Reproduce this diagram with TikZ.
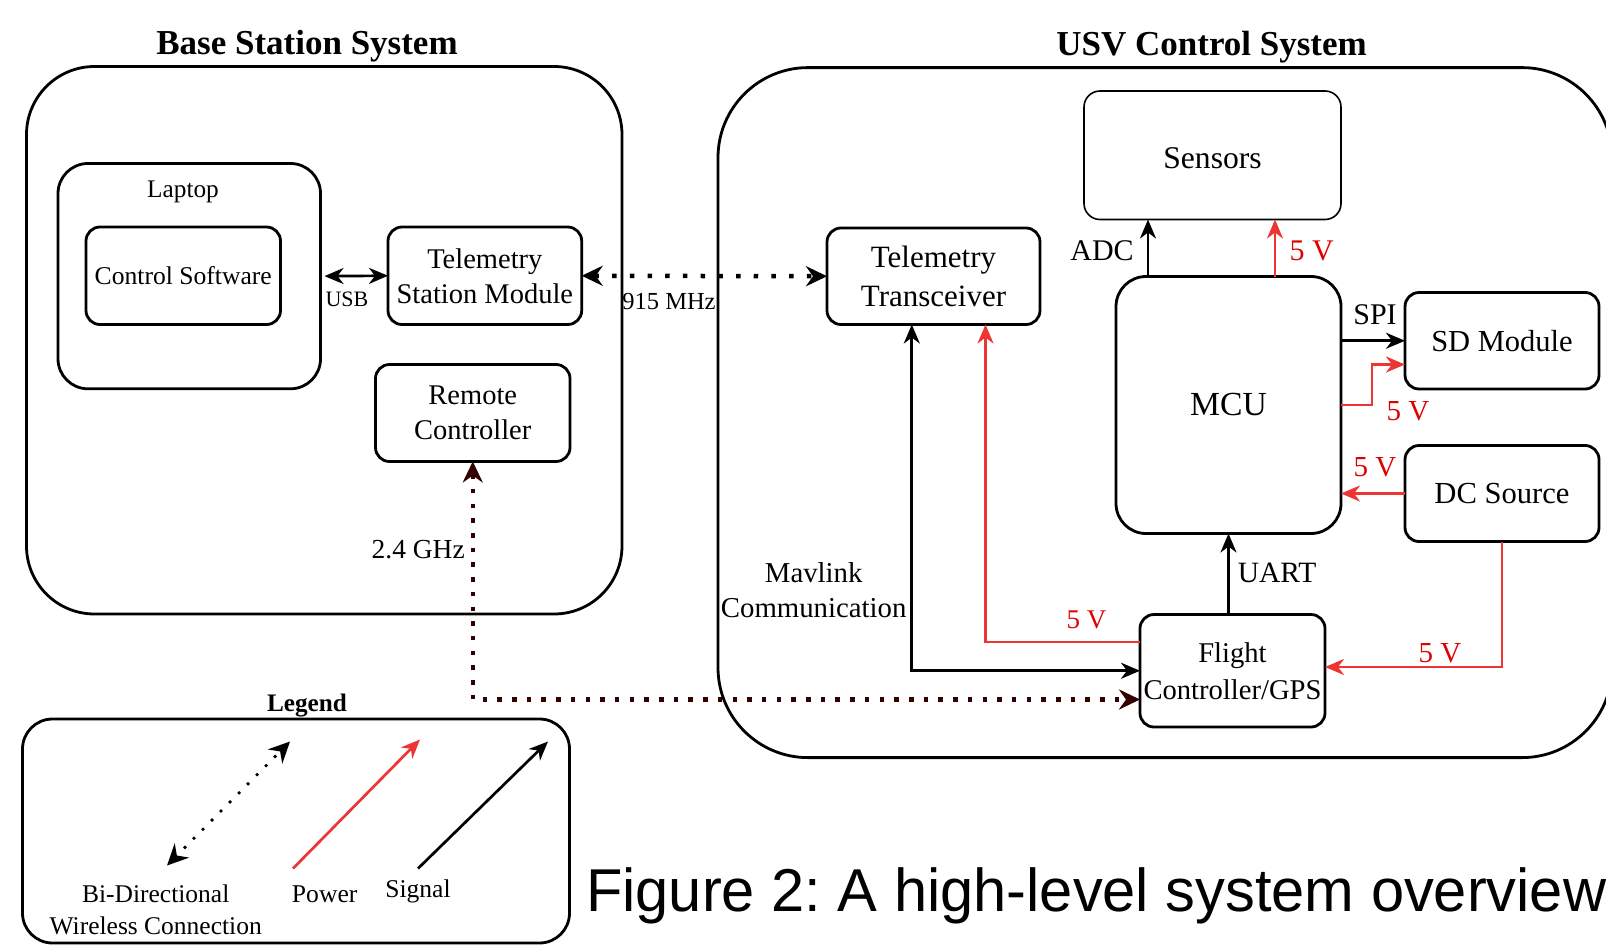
\documentclass[tikz,border=0pt]{standalone}
\usepackage{fontspec}
\setmainfont{Liberation Serif}
\newfontfamily\capfont[FakeStretch=0.985]{Liberation Sans}
\usetikzlibrary{arrows.meta,calc}
\newcommand\fsz[2]{\fontsize{#1}{#2}\selectfont}
\definecolor{pw}{HTML}{EE3535}
\definecolor{pwt}{HTML}{E00000}
\definecolor{wlc}{HTML}{330000}
\begin{document}
\begin{tikzpicture}[x=1pt,y=-1pt,
  blk/.style={draw, line width=2.8pt, rounded corners=14pt, inner sep=0pt, outer sep=0pt, align=center},
  tipA/.style={-{Stealth[length=19pt,width=16pt,inset=6pt]}},
  tipB/.style={{Stealth[length=19pt,width=16pt,inset=6pt]}-{Stealth[length=19pt,width=16pt,inset=6pt]}},
  tipW/.style={{Stealth[length=21pt,width=20pt,inset=7pt]}-{Stealth[length=21pt,width=20pt,inset=7pt]}},
  sig/.style={line width=2.7pt, tipA},
  sigb/.style={line width=2.7pt, tipB},
  pow/.style={line width=2.7pt, draw=pw, tipA},
  wless/.style={line width=4.5pt, dash pattern=on 4.5pt off 13.2pt, tipW},
  wlbrown/.style={line width=4.5pt, draw=wlc, dash pattern=on 4.5pt off 10.2pt, tipW},
  lbl/.style={inner sep=0pt, align=center},
  vlt/.style={lbl, text=pwt, font=\fsz{29}{34}},
]
\useasboundingbox (0,0) rectangle (1606,945);
\clip (0,0) rectangle (1606,945);

% ---------- Base Station ----------
\node[lbl, font=\bfseries\fsz{35}{40}] (t1) at (307,46.5) {Base Station System};
\node[blk, rounded corners=68pt, minimum width=595.5pt, minimum height=547.5pt] (base) at (324.25,340.25) {};
\node[blk, rounded corners=30pt, minimum width=262.5pt, minimum height=225.3pt] (laptop) at (189.25,276.15) {};
\node[lbl, font=\fsz{25.3}{30}] (laptoplbl) at (183,191.5) {Laptop};
\node[blk, minimum width=194.5pt, minimum height=97.5pt, font=\fsz{25.6}{30}] (cs) at (183.25,275.75) {Control Software};
\node[blk, minimum width=193.7pt, minimum height=97.5pt, font=\fsz{28.5}{35}] (tsm) at (484.85,275.75) {Telemetry\\Station Module};
\node[blk, minimum width=194.5pt, minimum height=97pt, font=\fsz{28.5}{35}] (rc) at (472.75,413) {Remote\\Controller};

% ---------- USV ----------
\node[lbl, font=\bfseries\fsz{35}{40}] (t2) at (1211.6,47) {USV Control System};
\node[blk, rounded corners=90pt, minimum width=894pt, minimum height=690pt] (usv) at (1165,412.6) {};
\node[blk, line width=1.6pt, rounded corners=16pt, minimum width=257pt, minimum height=128.5pt, font=\fsz{31.6}{36}] (sens) at (1212.5,155.25) {};
\node[lbl, font=\fsz{31.6}{36}] (senslbl) at (1212.5,158.5) {Sensors};
\node[blk, minimum width=213pt, minimum height=96.5pt, font=\fsz{31}{38.8}] (tt) at (933.5,276.25) {Telemetry\\Transceiver};
\node[blk, rounded corners=30pt, minimum width=225pt, minimum height=257pt, font=\fsz{33.7}{38}] (mcu) at (1228.5,405) {MCU};
\node[blk, minimum width=194pt, minimum height=96.5pt, font=\fsz{30.5}{36}] (sd) at (1502,340.75) {SD Module};
\node[blk, minimum width=194pt, minimum height=96pt, font=\fsz{30.6}{36}] (dc) at (1502,493.5) {DC Source};
\node[blk, minimum width=185pt, minimum height=112.5pt, font=\fsz{28.6}{37}] (fc) at (1232.5,670.75) {Flight\\Controller/GPS};

% ---------- connectors ----------
\draw[sigb, shorten <=4pt] (laptop.east) -- (tsm.west);
\node[lbl, font=\fsz{22}{26}] (usb) at (347,299) {USB};
\draw[wless] (tsm.east) -- (tt.west);
\node[lbl, font=\fsz{24.5}{28}] (mhz) at (669,302) {915 MHz};

\draw[sig] ([xshift=-80.5pt]mcu.north) -- ([xshift=-80.5pt]mcu.north |- sens.south);
\node[lbl, font=\fsz{30}{34}] (adc) at (1102,251) {ADC};
\draw[pow] ([xshift=46.5pt]mcu.north) -- ([xshift=46.5pt]mcu.north |- sens.south);
\node[vlt, font=\fsz{30}{34}] (v1) at (1311.7,251) {5 V};

\draw[sig] (mcu.east |- sd.west) -- (sd.west);
\node[lbl, font=\fsz{30}{34}] (spi) at (1375,315) {SPI};
\draw[pow] (mcu.east) -- ++(31,0) |- ([yshift=-23.75pt]sd.west);
\node[vlt] (v2) at (1408,411) {5 V};

\draw[pow] (dc.west) -- (dc.west -| mcu.east);
\node[vlt] (v3) at (1375,467) {5 V};

\draw[sig] (mcu.south |- fc.north) -- (mcu.south);
\node[lbl, font=\fsz{29.5}{34}] (uart) at (1277,572.5) {UART};

\draw[pow] (dc.south) |- ([yshift=3.75pt]fc.east);
\node[vlt] (v4) at (1440,653.7) {5 V};

\draw[pow] ([yshift=28.75pt]fc.west) -| ([xshift=52pt]tt.south);
\node[vlt, font=\fsz{27}{32}] (v5) at (1086.6,620) {5 V};

\draw[sigb] ([xshift=-21.7pt]tt.south) |- (fc.west);
\node[lbl, font=\fsz{28.8}{34.5}] (mav) at (813.7,590) {Mavlink\\Communication};

\draw[wlbrown] (rc.south) |- ([yshift=-28.75pt]fc.west);
\node[lbl, font=\fsz{27.5}{32}, anchor=east] (ghz) at (465,550) {2.4 GHz};

% ---------- Legend ----------
\node[lbl, font=\bfseries\fsz{25.2}{30}] (legt) at (307,705.5) {Legend};
\node[blk, rounded corners=30pt, minimum width=547pt, minimum height=224pt] (leg) at (296,831) {};
\coordinate (w1) at (167,865.5);
\coordinate (w2) at (290,741.5);
\coordinate (p1) at (293,868.5);
\coordinate (p2) at (420,739.5);
\coordinate (s1) at (418,868.5);
\coordinate (s2) at (548,741.5);
\draw[line width=3.8pt, line cap=round, dash pattern=on 0pt off 12.8pt, tipW] (w1) -- (w2);
\draw[pow] (p1) -- (p2);
\draw[sig] (s1) -- (s2);
\node[lbl, font=\fsz{25.5}{32.5}] (lw) at (155.7,910) {Bi-Directional\\Wireless Connection};
\node[lbl, font=\fsz{25.6}{30}] (lp) at (324.7,894) {Power};
\node[lbl, font=\fsz{25.6}{30}] (ls) at (418,891) {Signal};

% ---------- caption ----------
\node[inner sep=0pt, anchor=base west, font=\capfont\fsz{60.5}{70}\frenchspacing] (cap) at (586,911.5) {Figure 2: A high-level system overview};
\end{tikzpicture}
\end{document}
